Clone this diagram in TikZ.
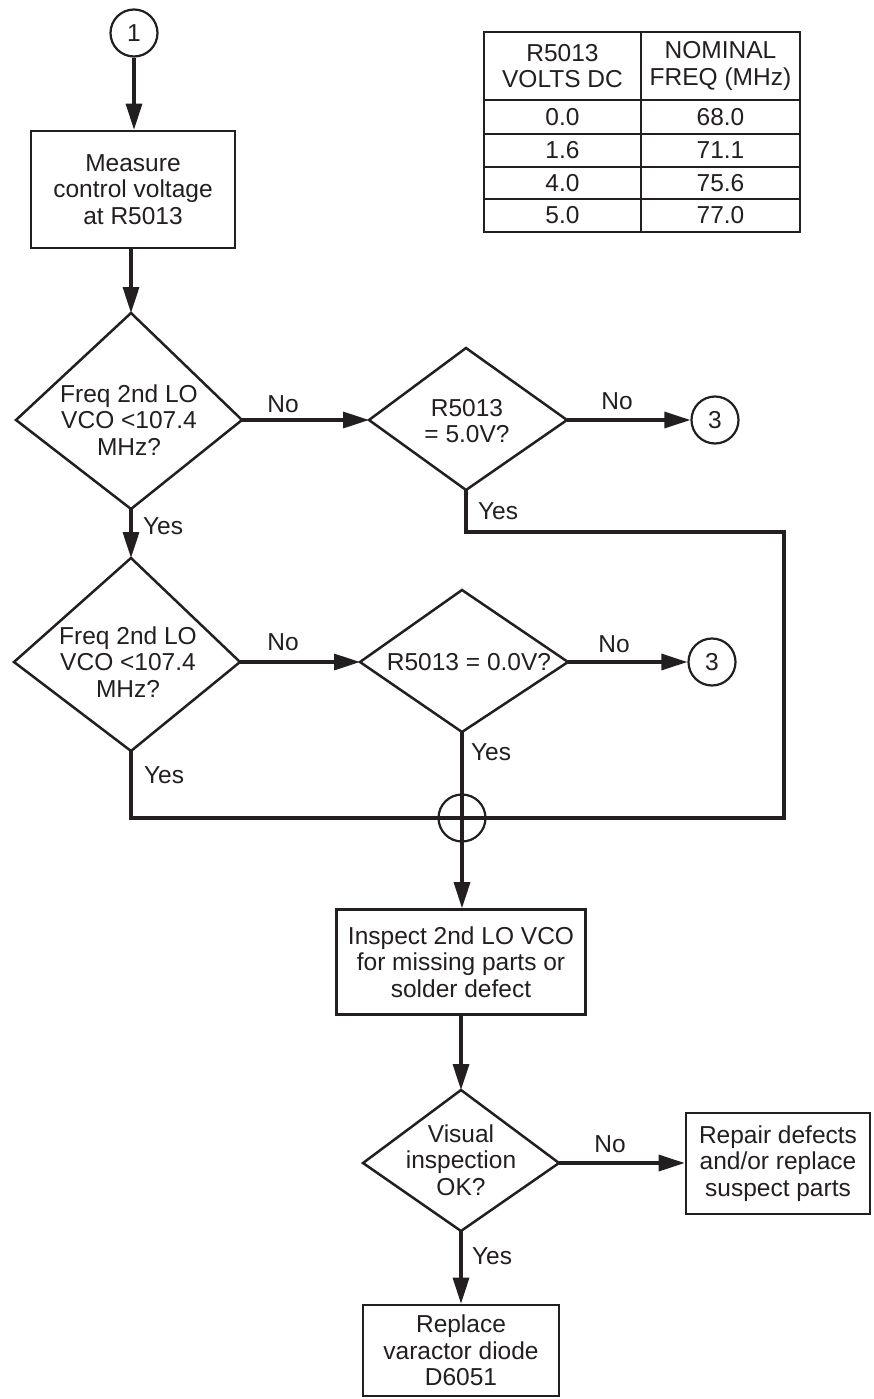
\documentclass[tikz,border=0pt]{standalone}
\usepackage{fontspec}
\setmainfont{Liberation Sans}
\usetikzlibrary{arrows.meta}
\definecolor{ink}{RGB}{35,31,32}
\begin{document}
\begin{tikzpicture}[x=1pt,y=-1pt,
  every node/.style={font=\fontsize{24.5}{26.5}\selectfont, text=ink},
  box/.style={draw=ink, line width=2.6pt, rectangle, inner sep=0pt, align=center},
  circ/.style={draw=ink, line width=2.2pt, circle, minimum size=47pt, inner sep=0pt},
  kite/.style={draw=ink, line width=2.5pt, line join=miter},
  conn/.style={draw=ink, line width=3.3pt, line join=miter},
  arr/.style={conn, -{Triangle[length=26pt,width=16pt]}},
  lbl/.style={inner sep=0pt, align=center},
  cell/.style={draw=ink, line width=2.2pt, inner sep=0pt, align=center}
]
\useasboundingbox (0,0) rectangle (873,1399);
\fill[white] (0,0) rectangle (873,1399);

% table
\node[cell, minimum width=157pt, minimum height=68pt] (t10) at (562.5,66) {R5013\\VOLTS DC};
\node[cell, minimum width=159pt, minimum height=68pt] (t20) at (720.5,66) {NOMINAL\\FREQ (MHz)};
\node[cell, minimum width=157pt, minimum height=34pt] (t11) at (562.5,117) {0.0};
\node[cell, minimum width=159pt, minimum height=34pt] (t21) at (720.5,117) {68.0};
\node[cell, minimum width=157pt, minimum height=33pt] (t12) at (562.5,150.5) {1.6};
\node[cell, minimum width=159pt, minimum height=33pt] (t22) at (720.5,150.5) {71.1};
\node[cell, minimum width=157pt, minimum height=32pt] (t13) at (562.5,183) {4.0};
\node[cell, minimum width=159pt, minimum height=32pt] (t23) at (720.5,183) {75.6};
\node[cell, minimum width=157pt, minimum height=33pt] (t14) at (562.5,215.5) {5.0};
\node[cell, minimum width=159pt, minimum height=33pt] (t24) at (720.5,215.5) {77.0};

% top
\node[circ] (c1) at (134,33) {1};
\node[box, minimum width=204pt, minimum height=117pt] (b1) at (133,189.5) {Measure\\control voltage\\at R5013};

% diamond 1
\coordinate (d1t) at (131,313);
\coordinate (d1l) at (16,420);
\coordinate (d1r) at (242,420);
\coordinate (d1b) at (131,509);
\draw[kite] (d1t) -- (d1r) -- (d1b) -- (d1l) -- cycle;
\node[lbl] (d1) at (129,420) {Freq 2nd LO\\VCO <107.4\\MHz?};

% diamond 2
\coordinate (d2t) at (466,348);
\coordinate (d2l) at (369,420);
\coordinate (d2r) at (567,420);
\coordinate (d2b) at (466,490);
\draw[kite] (d2t) -- (d2r) -- (d2b) -- (d2l) -- cycle;
\node[lbl] (d2) at (467,421) {R5013\\= 5.0V?};
\node[circ] (c3a) at (715,420) {3};

% diamond 3
\coordinate (d3t) at (131,558);
\coordinate (d3l) at (14,662);
\coordinate (d3r) at (240,662);
\coordinate (d3b) at (131,751);
\draw[kite] (d3t) -- (d3r) -- (d3b) -- (d3l) -- cycle;
\node[lbl] (d3) at (128,662) {Freq 2nd LO\\VCO <107.4\\MHz?};

% diamond 4
\coordinate (d4t) at (462,590);
\coordinate (d4l) at (360,662);
\coordinate (d4r) at (568,662);
\coordinate (d4b) at (462,732);
\draw[kite] (d4t) -- (d4r) -- (d4b) -- (d4l) -- cycle;
\node[lbl] (d4) at (469,662) {R5013 = 0.0V?};
\node[circ] (c3b) at (712,662) {3};

% junction
\node[circ] (jn) at (462,818) {};
\coordinate (lp1) at (784,532);

% lower part
\node[box, minimum width=249pt, minimum height=105pt] (b2) at (461,962) {Inspect 2nd LO VCO\\for missing parts or\\solder defect};
\coordinate (d5t) at (461,1090);
\coordinate (d5l) at (363,1163);
\coordinate (d5r) at (559,1163);
\coordinate (d5b) at (461,1231);
\draw[kite] (d5t) -- (d5r) -- (d5b) -- (d5l) -- cycle;
\node[lbl] (d5) at (461,1160) {Visual\\inspection\\OK?};
\node[box, minimum width=184pt, minimum height=101pt] (b3) at (778,1163.5) {Repair defects\\and/or replace\\suspect parts};
\node[box, minimum width=196pt, minimum height=91pt] (b4) at (461,1350.5) {Replace\\varactor diode\\D6051};

% connectors
\draw[arr] (c1.south) -- (c1.south |- b1.north);
\draw[arr] (b1.south -| d1t) -- (d1t);
\draw[arr] (d1r) -- (d2l);
\draw[arr] (d2r) -- (d2r -| c3a.west);
\draw[arr] (d1b) -- (d3t);
\draw[arr] (d3r) -- (d4l);
\draw[arr] (d4r) -- (c3b.west);
\draw[conn] (d2b) |- (lp1) |- (jn.center);
\draw[conn] (d3b) |- (jn.center);
\draw[conn] (d4b) -- (jn.center);
\draw[arr] (jn.center) -- (jn.center |- b2.north);
\draw[arr] (b2.south -| d5t) -- (d5t);
\draw[arr] (d5r) -- (d5r -| b3.west);
\draw[arr] (d5b) -- (b4.north);

% labels
\node[lbl] (n1) at (283,404) {No};
\node[lbl] (n2) at (617,401) {No};
\node[lbl] (y1) at (163,526) {Yes};
\node[lbl] (y2) at (498,511) {Yes};
\node[lbl] (n3) at (283,642) {No};
\node[lbl] (n4) at (614,644) {No};
\node[lbl] (y3) at (164,775) {Yes};
\node[lbl] (y4) at (491,752) {Yes};
\node[lbl] (n5) at (610,1144) {No};
\node[lbl] (y5) at (492,1256) {Yes};
\end{tikzpicture}
\end{document}
